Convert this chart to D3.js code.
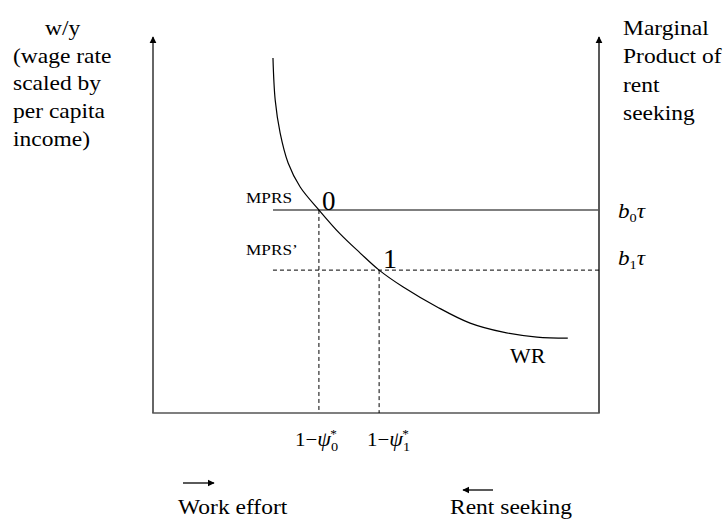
<!DOCTYPE html>
<html><head><meta charset="utf-8">
<script src="https://cdn.jsdelivr.net/npm/d3@7"></script>
<style>
body{margin:0;background:#fff;}
svg text{font-family:"Liberation Serif","Times New Roman",serif;fill:#000;}
</style></head>
<body>
<svg id="c" width="728" height="522"></svg>
<script>
// Data
const curveX = [0.269,0.274,0.285,0.303,0.330,0.372,0.419,0.464,0.507,0.561,0.637,0.711,0.785,0.861,0.930];
const curveY = [0.944,0.832,0.745,0.665,0.601,0.540,0.477,0.426,0.380,0.335,0.282,0.239,0.215,0.202,0.199];
const equilibriumX = [0.372, 0.507];   // 1-psi0*, 1-psi1*
const mprsY = [0.540, 0.380];          // b0 tau, b1 tau
const mprsStart = 0.269;
const leftLabel = ["w/y","(wage rate","scaled by","per capita","income)"];
const rightLabel = ["Marginal","Product of","rent","seeking"];
const mprsLabels = ["MPRS","MPRS\u2019"];
const pointLabels = ["0","1"];
const directionLabels = ["Work effort","Rent seeking"];

const svg = d3.select("#c");
const x = d3.scaleLinear().domain([0,1]).range([153,599]);
const y = d3.scaleLinear().domain([0,1]).range([413,37]);
const SX = 1.12;

function stext(px, py, size, sx){
  return svg.append("g").attr("transform",`translate(${px},${py}) scale(${sx||SX},1)`)
    .append("text").attr("x",0).attr("y",0).attr("font-size",size);
}

const defs = svg.append("defs");
defs.append("marker").attr("id","ah").attr("viewBox","0 0 10 10").attr("refX",9).attr("refY",5)
  .attr("markerWidth",7).attr("markerHeight",8).attr("markerUnits","userSpaceOnUse").attr("orient","auto")
  .append("path").attr("d","M0,0L10,5L0,10Z").attr("fill","#000");

// axes
svg.append("line").attr("x1",x(0)).attr("y1",y(0)).attr("x2",x(0)).attr("y2",y(1))
  .attr("stroke","#333").attr("stroke-width",1.5).attr("marker-end","url(#ah)");
svg.append("line").attr("x1",x(1)).attr("y1",y(0)).attr("x2",x(1)).attr("y2",y(1))
  .attr("stroke","#222").attr("stroke-width",1.5).attr("marker-end","url(#ah)");
svg.append("line").attr("x1",x(0)-0.75).attr("y1",y(0)).attr("x2",x(1)+0.75).attr("y2",y(0))
  .attr("stroke","#555").attr("stroke-width",1.5);

// MPRS lines
svg.append("line").attr("x1",x(mprsStart)).attr("x2",x(1)).attr("y1",y(mprsY[0])).attr("y2",y(mprsY[0]))
  .attr("stroke","#555").attr("stroke-width",1.4);
svg.append("line").attr("x1",x(mprsStart)).attr("x2",x(1)).attr("y1",y(mprsY[1])).attr("y2",y(mprsY[1]))
  .attr("stroke","#000").attr("stroke-width",1).attr("stroke-dasharray","4,3");
equilibriumX.forEach((ex,i)=>{
  svg.append("line").attr("x1",x(ex)).attr("x2",x(ex)).attr("y1",y(mprsY[i])).attr("y2",y(0))
    .attr("stroke","#000").attr("stroke-width",1).attr("stroke-dasharray","4,3");
});

// WR curve
const pts = curveX.map((v,i)=>[v,curveY[i]]);
svg.append("path").datum(pts)
  .attr("d",d3.line().x(d=>x(d[0])).y(d=>y(d[1])).curve(d3.curveCatmullRom.alpha(0.5)))
  .attr("fill","none").attr("stroke","#000").attr("stroke-width",1.2);

// axis titles
leftLabel.forEach((t,i)=>{
  stext(i===0?45:13, 35+i*27.7, 21).text(t);
});
rightLabel.forEach((t,i)=>{
  stext(623, 35+i*28.3, 21).text(t);
});

// MPRS labels
stext(246, y(mprsY[0])-7, 15, 1.15).text(mprsLabels[0]);
stext(246, y(mprsY[1])-15, 15, 1.15).text(mprsLabels[1]);
stext(x(equilibriumX[0])+3, y(mprsY[0]), 27, 1.0).text(pointLabels[0]);
stext(x(equilibriumX[1])+4, y(mprsY[1])-2, 28, 1.0).text(pointLabels[1]);

// b tau labels
[0,1].forEach(i=>{
  const t = stext(618, i===0?218:265, 21, 1.1).attr("font-style","italic");
  t.append("tspan").text("b");
  t.append("tspan").attr("font-size",13).attr("font-style","normal").attr("dy",4).text(String(i));
  t.append("tspan").attr("dy",-4).text("\u03c4");
});

stext(510, 363, 20, 1.1).text("WR");

// x labels
[295,367].forEach((sx0,i)=>{
  const t = stext(sx0, 446, 19, 1.1);
  t.append("tspan").text("1\u2212");
  t.append("tspan").attr("font-style","italic").attr("font-size",20).text("\u03c8");
  t.append("tspan").attr("font-size",13).attr("dy",5).text(String(i));
  t.append("tspan").attr("font-size",12).attr("dx",-7).attr("dy",-13).text("*");
});

// direction arrows
svg.append("line").attr("x1",183).attr("x2",214).attr("y1",483).attr("y2",483)
  .attr("stroke","#000").attr("stroke-width",1.3).attr("marker-end","url(#ah)");
svg.append("line").attr("x1",493).attr("x2",463).attr("y1",490).attr("y2",490)
  .attr("stroke","#000").attr("stroke-width",1.3).attr("marker-end","url(#ah)");
stext(178, 514, 21).text(directionLabels[0]);
stext(450, 514, 21).text(directionLabels[1]);
</script>
</body></html>
